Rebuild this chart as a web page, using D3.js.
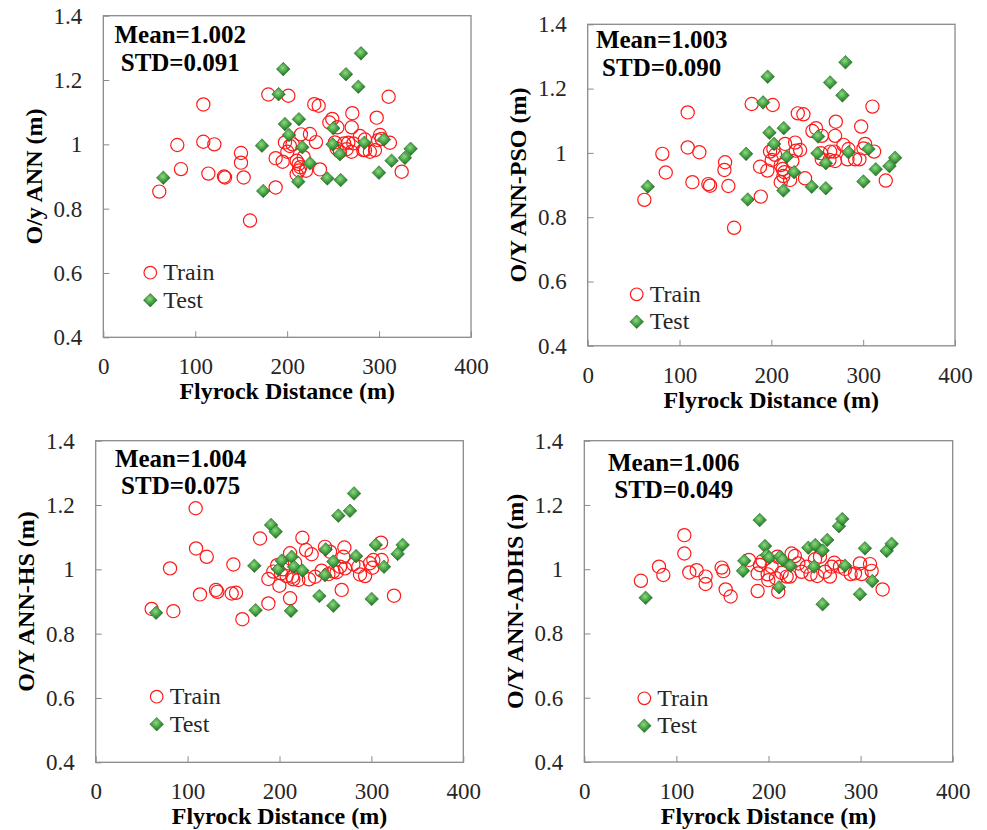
<!DOCTYPE html>
<html>
<head>
<meta charset="utf-8">
<script src="https://cdn.jsdelivr.net/npm/d3@7"></script>
<style>
  body { margin: 0; background: #fff; }
  svg text { font-family: "Liberation Serif", "Times New Roman", serif; }
</style>
</head>
<body>
<svg id="chart"></svg>
<script>
// tick values shared by every panel
const xTicks = [0, 100, 200, 300, 400];
const yTicks = [0.4, 0.6, 0.8, 1, 1.2, 1.4];

// [flyrock distance (m), observed/predicted ratio]
const annTrain = [[60.9,0.853],[80.5,0.998],[84.5,0.923],[108.8,1.124],[108.8,1.008],[120.8,1.000],[114.3,0.909],[131.3,0.900],[132.4,0.897],[149.8,0.973],[149.8,0.943],[152.7,0.897],[159.6,0.763],[179.5,1.155],[201.3,1.151],[187.5,0.866],[187.5,0.957],[195.1,0.946],[197.6,1.006],[203.0,0.995],[200.2,0.977],[210.3,0.949],[212.5,0.939],[214.3,0.929],[212.9,0.919],[210.3,0.907],[220.5,0.918],[215.0,1.031],[224.8,1.032],[231.4,1.007],[229.5,1.125],[234.3,1.120],[235.7,0.922],[245.9,1.068],[249.1,1.079],[254.6,1.053],[252.0,1.006],[253.8,0.987],[257.5,0.977],[262.0,1.003],[266.5,1.005],[264.7,0.985],[270.0,0.977],[270.9,1.097],[270.2,1.053],[272.0,1.003],[279.2,1.026],[284.6,1.015],[282.8,0.982],[284.7,0.982],[290.0,0.977],[295.5,0.982],[297.4,1.083],[301.0,1.029],[299.0,1.013],[302.8,1.017],[310.4,1.148],[311.8,1.005],[324.6,0.915],[206.0,1.000],[218.0,0.960]];
const annTest = [[65.3,0.896],[172.6,0.996],[174.0,0.855],[195.8,1.234],[190.7,1.156],[197.6,1.063],[212.8,1.078],[202.0,1.029],[216.5,0.991],[212.1,0.884],[224.8,0.941],[243.7,0.894],[250.2,1.050],[249.5,1.000],[257.4,0.969],[258.2,0.889],[264.0,1.218],[277.4,1.179],[280.3,1.283],[284.0,1.005],[299.9,0.912],[305.3,1.015],[313.6,0.949],[328.1,0.958],[334.3,0.986]];

const psoTrain = [[61.7,0.854],[81.3,0.997],[85.0,0.939],[108.9,1.126],[108.9,1.017],[121.6,1.002],[114.0,0.909],[131.4,0.903],[133.3,0.898],[149.6,0.971],[148.9,0.947],[153.2,0.897],[159.4,0.767],[178.6,1.152],[201.5,1.149],[188.5,0.864],[187.7,0.957],[195.7,0.945],[198.6,1.004],[200.4,0.978],[204.1,0.994],[202.2,1.012],[215.0,1.028],[225.9,1.032],[231.3,1.009],[226.6,1.007],[210.2,0.962],[212.4,0.950],[214.2,0.940],[213.1,0.928],[210.2,0.909],[220.4,0.916],[222.9,0.975],[236.7,0.921],[228.8,1.123],[234.9,1.120],[244.7,1.068],[248.7,1.077],[254.9,1.053],[269.4,1.053],[270.2,1.097],[254.2,0.999],[254.9,0.980],[264.0,1.004],[268.4,1.004],[263.3,0.978],[269.4,0.975],[278.5,1.025],[284.0,1.012],[282.9,0.980],[291.2,0.980],[295.9,0.980],[297.8,1.082],[310.1,1.144],[302.1,1.028],[300.3,1.014],[311.9,1.004],[324.6,0.914]];
const psoTest = [[65.4,0.895],[172.5,0.997],[174.3,0.855],[196.0,1.237],[191.0,1.157],[197.9,1.063],[213.5,1.077],[203.0,1.028],[216.8,0.988],[213.1,0.883],[224.8,0.940],[244.0,0.895],[250.9,1.051],[250.2,0.999],[259.3,0.968],[259.3,0.890],[264.0,1.219],[277.4,1.179],[280.7,1.282],[284.0,1.002],[300.3,0.911],[305.7,1.012],[313.7,0.949],[328.6,0.959],[334.8,0.985]];

const hsTrain = [[60.9,0.877],[80.9,1.003],[84.5,0.870],[108.8,1.190],[109.2,1.065],[120.8,1.039],[113.5,0.922],[130.9,0.936],[132.4,0.930],[149.8,1.015],[148.0,0.925],[152.7,0.927],[159.6,0.845],[178.8,1.096],[187.9,0.894],[187.9,0.970],[193.3,0.993],[199.9,0.949],[201.7,0.987],[207.8,0.979],[211.5,1.050],[211.5,0.910],[213.9,0.977],[215.0,0.969],[216.9,1.021],[220.5,0.967],[224.9,1.098],[228.9,1.060],[235.0,1.047],[232.1,0.969],[238.7,0.977],[245.9,0.996],[249.5,1.070],[255.0,1.055],[253.2,0.985],[258.6,0.993],[262.2,0.991],[265.9,1.008],[267.7,0.936],[270.6,1.068],[269.5,1.039],[271.3,1.003],[280.4,1.015],[285.8,1.008],[287.6,0.984],[293.1,0.979],[298.5,1.019],[301.1,1.005],[302.1,1.029],[310.5,1.083],[311.2,1.029],[324.6,0.918],[197.5,1.013],[204.0,1.000]];
const hsTest = [[65.7,0.865],[172.6,1.011],[174.0,0.873],[190.8,1.138],[195.9,1.117],[198.8,1.000],[202.4,1.027],[213.3,1.039],[215.8,1.008],[212.5,0.871],[224.9,0.996],[243.4,0.917],[250.3,1.062],[249.5,0.982],[258.6,1.024],[258.6,0.887],[264.0,1.167],[276.7,1.182],[281.1,1.236],[283.3,1.041],[300.3,0.908],[304.7,1.076],[313.7,1.008],[328.6,1.048],[334.0,1.076]];

const adhsTrain = [[61.5,0.964],[81.1,1.008],[85.8,0.982],[108.6,1.106],[108.6,1.049],[114.0,0.990],[122.0,0.997],[131.7,0.977],[131.7,0.954],[149.1,1.005],[150.9,0.994],[153.5,0.937],[158.9,0.915],[178.8,1.029],[188.2,0.932],[188.2,0.987],[193.6,1.026],[199.8,0.966],[199.1,0.984],[203.4,1.008],[209.6,1.039],[210.6,0.930],[208.1,0.972],[214.3,0.989],[219.7,0.977],[223.3,0.977],[225.1,1.049],[228.7,1.041],[232.4,1.018],[236.0,0.992],[241.4,1.008],[245.7,0.984],[250.5,1.031],[253.0,0.979],[255.9,1.039],[261.3,0.992],[266.7,0.977],[268.6,1.008],[271.4,1.020],[277.6,1.008],[283.0,1.001],[289.2,0.985],[293.9,0.987],[299.3,1.018],[301.1,0.985],[310.2,1.016],[312.0,0.995],[323.9,0.937],[190.7,1.013]];
const adhsTest = [[66.6,0.911],[173.7,1.026],[172.3,0.995],[190.4,1.153],[196.2,1.072],[198.0,1.044],[200.9,1.036],[212.4,1.039],[215.3,1.029],[211.4,0.944],[224.0,1.011],[243.2,1.067],[250.8,1.075],[249.4,1.008],[258.8,1.058],[258.8,0.891],[263.8,1.091],[276.5,1.134],[280.1,1.156],[283.0,1.011],[299.3,0.922],[304.7,1.065],[312.7,0.963],[328.3,1.057],[333.7,1.079]];

const yTitles = ["O/y ANN (m)", "O/Y ANN-PSO (m)", "O/Y ANN-HS (m)", "O/Y ANN-ADHS (m)"];
const means = ["1.002", "1.003", "1.004", "1.006"];
const stds = ["0.091", "0.090", "0.075", "0.049"];

// panel placement on the page
const panels = [
  { train: annTrain,  test: annTest,  left: 103.3, top: 15.7,  w: 367.7, h: 321.6, stat: [77, 27.6], leg: [47, 257] },
  { train: psoTrain,  test: psoTest,  left: 587.7, top: 24.3,  w: 367.3, h: 321.5, stat: [74, 24],   leg: [49, 270] },
  { train: hsTrain,   test: hsTest,   left: 95.7,  top: 440.7, w: 367.6, h: 321.6, stat: [85, 26],   leg: [61, 256] },
  { train: adhsTrain, test: adhsTest, left: 584.3, top: 440.7, w: 368.4, h: 321.3, stat: [89.5, 30], leg: [60, 257.6] }
];

const svg = d3.select("#chart")
  .attr("width", 987)
  .attr("height", 830);

svg.append("rect").attr("width", 987).attr("height", 830).attr("fill", "#fff");

const defs = svg.append("defs");
const grad = defs.append("radialGradient")
  .attr("id", "dia")
  .attr("cx", "45%").attr("cy", "40%").attr("r", "60%");
grad.append("stop").attr("offset", "0%").attr("stop-color", "#8fd97f");
grad.append("stop").attr("offset", "55%").attr("stop-color", "#43a043");
grad.append("stop").attr("offset", "100%").attr("stop-color", "#1d641d");

const frameColor = "#8a8a8a";
const diamond = r => `M0,${-r}L${r},0L0,${r}L${-r},0Z`;

panels.forEach(function(p, i) {
  const g = svg.append("g")
    .attr("transform", `translate(${p.left},${p.top})`);

  const x = d3.scaleLinear().domain([0, 400]).range([0, p.w]);
  const y = d3.scaleLinear().domain([0.4, 1.4]).range([p.h, 0]);

  // X axis (ticks inward)
  const xa = g.append("g")
    .attr("transform", `translate(0,${p.h})`)
    .call(d3.axisBottom(x).tickValues(xTicks).tickSize(-6).tickPadding(20.5).tickFormat(d => d));
  xa.select(".domain").remove();
  xa.selectAll("line").attr("stroke", frameColor);
  xa.selectAll("text")
    .attr("font-size", 23)
    .attr("fill", "#262626");

  // Y axis (ticks inward)
  const ya = g.append("g")
    .call(d3.axisLeft(y).tickValues(yTicks).tickSize(-6).tickPadding(21).tickFormat(d => String(d)));
  ya.select(".domain").remove();
  ya.selectAll("line").attr("stroke", frameColor);
  ya.selectAll("text")
    .attr("font-size", 23)
    .attr("fill", "#262626");

  // plot frame
  g.append("rect")
    .attr("width", p.w)
    .attr("height", p.h)
    .attr("fill", "none")
    .attr("stroke", frameColor)
    .attr("stroke-width", 1.3);

  // X Axis Label
  g.append("text")
    .attr("x", x(200))
    .attr("y", p.h + 62)
    .attr("text-anchor", "middle")
    .attr("font-size", 24)
    .attr("font-weight", "bold")
    .text("Flyrock Distance (m)");

  // Y Axis Label
  g.append("text")
    .attr("transform", `translate(${-70},${p.h / 2}) rotate(-90)`)
    .attr("text-anchor", "middle")
    .attr("dy", "0.35em")
    .attr("font-size", 24)
    .attr("font-weight", "bold")
    .text(yTitles[i]);

  // stats
  g.append("text")
    .attr("x", p.stat[0]).attr("y", p.stat[1])
    .attr("text-anchor", "middle")
    .attr("font-size", 25).attr("font-weight", "bold")
    .text("Mean=" + means[i]);
  g.append("text")
    .attr("x", p.stat[0]).attr("y", p.stat[1] + 27.5)
    .attr("text-anchor", "middle")
    .attr("font-size", 25).attr("font-weight", "bold")
    .text("STD=" + stds[i]);

  // train points
  g.append("g")
    .selectAll("circle")
    .data(p.train)
    .enter()
    .append("circle")
      .attr("cx", d => x(d[0]))
      .attr("cy", d => y(d[1]))
      .attr("r", 6.6)
      .attr("fill", "none")
      .attr("stroke", "#ff1a1a")
      .attr("stroke-width", 1.2);

  // test points
  g.append("g")
    .selectAll("path")
    .data(p.test)
    .enter()
    .append("path")
      .attr("d", diamond(6.8))
      .attr("transform", d => `translate(${x(d[0])},${y(d[1])})`)
      .attr("fill", "url(#dia)")
      .attr("stroke", "#2a6a2a")
      .attr("stroke-width", 0.6);

  // legend
  const lg = g.append("g").attr("transform", `translate(${p.leg[0]},${p.leg[1]})`);
  lg.append("circle")
    .attr("r", 6.3)
    .attr("fill", "none")
    .attr("stroke", "#ff1a1a")
    .attr("stroke-width", 1.2);
  lg.append("text")
    .attr("x", 13).attr("y", 7.5)
    .attr("font-size", 24)
    .attr("fill", "#262626")
    .text("Train");
  lg.append("path")
    .attr("d", diamond(6.8))
    .attr("transform", "translate(0,27.5)")
    .attr("fill", "url(#dia)")
    .attr("stroke", "#2a6a2a")
    .attr("stroke-width", 0.6);
  lg.append("text")
    .attr("x", 13).attr("y", 35)
    .attr("font-size", 24)
    .attr("fill", "#262626")
    .text("Test");
});
</script>
</body>
</html>
